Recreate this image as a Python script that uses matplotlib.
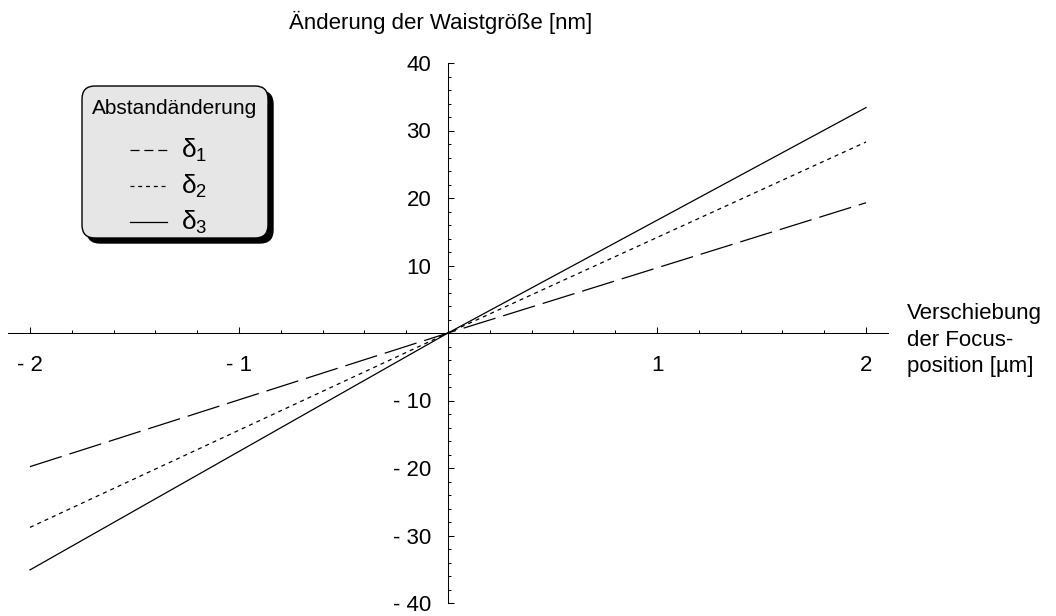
import matplotlib
matplotlib.use("Agg")
import matplotlib.pyplot as plt
from matplotlib.patches import FancyBboxPatch
from matplotlib.lines import Line2D
from matplotlib.ticker import MultipleLocator, FixedLocator

# Daten
focus_shift = [-2.0, 0.0, 2.0]            # Verschiebung der Focusposition [µm]
delta_1 = [-19.8, 0.0, 19.3]              # Änderung der Waistgröße [nm]
delta_2 = [-28.8, 0.0, 28.3]
delta_3 = [-35.1, 0.0, 33.4]
x_ticks = [-2, -1, 1, 2]
x_tick_labels = ["- 2", "- 1", "1", "2"]
y_ticks = [-40, -30, -20, -10, 10, 20, 30, 40]
y_tick_labels = ["- 40", "- 30", "- 20", "- 10", "10", "20", "30", "40"]
legend_title = "Abstandänderung"
legend_labels = ["δ$_1$", "δ$_2$", "δ$_3$"]

plt.rcParams["font.family"] = ["Liberation Sans", "DejaVu Sans"]
plt.rcParams["mathtext.fontset"] = "custom"
plt.rcParams["mathtext.rm"] = "Liberation Sans"
plt.rcParams["mathtext.it"] = "Liberation Sans"
plt.rcParams["lines.scale_dashes"] = False

W, H = 1056, 616
fig = plt.figure(figsize=(W / 100, H / 100), dpi=100)

# Achsen so legen, dass x=-2 bei px 30 und x=2 bei px 866 liegt
ax = fig.add_axes([8 / W, 13 / H, 880 / W, 540 / H])
ax.set_xlim(-2.105, 2.105)
ax.set_ylim(-40, 40)

styles = [
    dict(color="black", lw=0.9, dashes=(24, 5.8)),
    dict(color="black", lw=0.9, dashes=(2.9, 2.9)),
    dict(color="black", lw=0.9, linestyle="-"),
]
for ys, st in zip([delta_1, delta_2, delta_3], styles):
    ax.plot(focus_shift, ys, **st)

for side in ["top", "right"]:
    ax.spines[side].set_visible(False)
ax.spines["left"].set_position(("data", 0))
ax.spines["bottom"].set_position(("data", 0))
for side in ["left", "bottom"]:
    ax.spines[side].set_linewidth(0.75)

ax.xaxis.set_major_locator(FixedLocator(x_ticks))
ax.set_xticklabels(x_tick_labels)
ax.xaxis.set_minor_locator(MultipleLocator(0.2))
ax.yaxis.set_major_locator(FixedLocator(y_ticks))
ax.set_yticklabels(y_tick_labels)
ax.yaxis.set_minor_locator(MultipleLocator(2))

ax.tick_params(axis="both", which="both", direction="in", width=0.75, labelsize=16)
ax.tick_params(axis="both", which="major", length=4)
ax.tick_params(axis="both", which="minor", length=2.5)
ax.tick_params(axis="x", which="major", pad=16)
ax.tick_params(axis="y", which="major", pad=12)

# Achsenbeschriftungen
fig.text(441 / W, 1 - 22 / H, "Änderung der Waistgröße [nm]", ha="center", va="center", fontsize=16)
fig.text(907 / W, 1 - 340 / H, "Verschiebung\nder Focus-\nposition [µm]",
         ha="left", va="center", fontsize=16, linespacing=1.35)

# Legende in Pixelkoordinaten
ov = fig.add_axes([0, 0, 1, 1])
ov.set_xlim(0, W)
ov.set_ylim(H, 0)
ov.axis("off")

shadow = FancyBboxPatch((87, 91), 186, 152, boxstyle="round,pad=0,rounding_size=13",
                        fc="black", ec="black", lw=1)
box = FancyBboxPatch((82, 86), 186, 152, boxstyle="round,pad=0,rounding_size=13",
                     fc="#e6e6e6", ec="black", lw=1)
ov.add_patch(shadow)
ov.add_patch(box)
ov.text(175, 108, legend_title, ha="center", va="center", fontsize=15)

leg_styles = [
    dict(color="black", lw=0.9, dashes=(6.5, 3.5)),
    dict(color="black", lw=0.9, dashes=(2.8, 2.8)),
    dict(color="black", lw=0.9, linestyle="-"),
]
for yy, lab, st in zip([150, 186, 222], legend_labels, leg_styles):
    ov.add_line(Line2D([130, 167], [yy, yy], **st))
    ov.text(181, yy, lab, ha="left", va="center", fontsize=19)

fig.savefig("out.png", dpi=100)
